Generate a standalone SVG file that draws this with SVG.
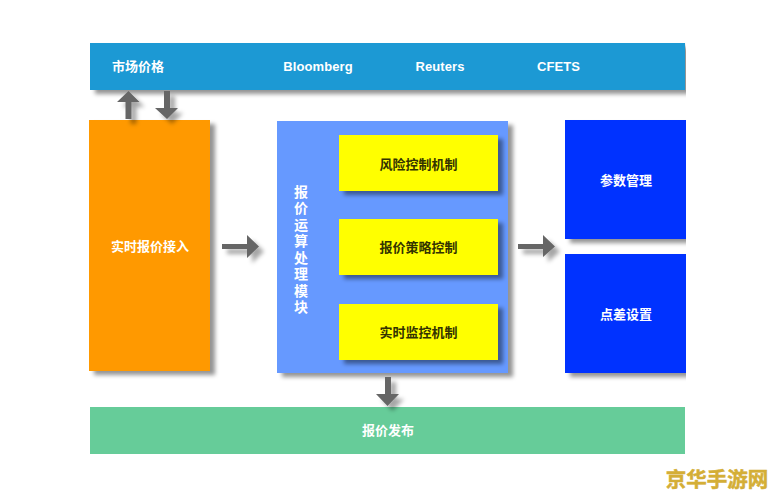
<svg xmlns="http://www.w3.org/2000/svg" width="775" height="498" viewBox="0 0 775 498">
<style>
text{font-family:"Liberation Sans","Noto Sans CJK SC",sans-serif;font-weight:bold;font-size:13px;fill:#fff;text-anchor:middle}
.dark{fill:#333300}
.w{fill:#d4ae36;stroke:#d4ae36;stroke-width:.5px;font-size:20.500px}
.v{font-size:14px}
.lat{letter-spacing:.1px}
.arrow{fill:#666;filter:url(#as)}
.box{filter:url(#sh)}
.cut{clip-path:url(#right)}
</style>
<defs>
<filter id="sh" x="-10%" y="-10%" width="125%" height="130%"><feDropShadow dx="5" dy="4" stdDeviation="2" flood-color="#000" flood-opacity=".42"/></filter>
<filter id="as" x="-50%" y="-50%" width="200%" height="200%"><feDropShadow dx="5" dy="5" stdDeviation="2.200" flood-color="#000" flood-opacity=".35"/></filter>
<clipPath id="right" clipPathUnits="userSpaceOnUse"><rect x="0" y="0" width="686" height="498"/></clipPath>
</defs>
<rect width="775" height="498" fill="#fff"/>
<g id="market"><g class="cut"><rect class="box" x="90" y="43" width="595" height="47" fill="#1a99d4"/></g>
<text x="138" y="71">市场价格</text><text class="lat" x="318" y="71">Bloomberg</text><text class="lat" x="440" y="71">Reuters</text><text class="lat" x="558.500" y="71">CFETS</text></g>
<g id="input"><rect class="box" x="89" y="120" width="121" height="251" fill="#ff9900"/><text x="150" y="251">实时报价接入</text></g>
<g id="engine"><rect class="box" x="277" y="121" width="231" height="252" fill="#6699ff"/>
<text class="v" x="301" y="197">报</text><text class="v" x="301" y="213.400">价</text><text class="v" x="301" y="229.900">运</text><text class="v" x="301" y="246.300">算</text><text class="v" x="301" y="262.700">处</text><text class="v" x="301" y="279.100">理</text><text class="v" x="301" y="295.600">模</text><text class="v" x="301" y="312">块</text></g>
<g id="risk"><rect class="box" x="339" y="135" width="159" height="56" fill="#ffff00"/><text class="dark" x="418.500" y="169">风险控制机制</text></g>
<g id="strategy"><rect class="box" x="339" y="219" width="159" height="56" fill="#ffff00"/><text class="dark" x="418.500" y="252">报价策略控制</text></g>
<g id="monitor"><rect class="box" x="339" y="304" width="159" height="56" fill="#ffff00"/><text class="dark" x="418.500" y="337">实时监控机制</text></g>
<g id="params"><g class="cut"><rect class="box" x="565" y="120" width="121" height="119" fill="#0033ff"/></g><text x="626" y="185">参数管理</text></g>
<g id="spread"><g class="cut"><rect class="box" x="565" y="254" width="121" height="119" fill="#0033ff"/></g><text x="626" y="319">点差设置</text></g>
<g id="publish"><rect x="90" y="407" width="595" height="47" fill="#66cc99"/><text x="388" y="435">报价发布</text></g>
<g id="connectors">
<path class="arrow" d="M125.500 119V102H117L128.500 91L139.500 102H131.500V119Z"/>
<path class="arrow" d="M164 91V108H155L167 119L178 108H170V91Z"/>
<path class="arrow" d="M222 244V249H247V258L259 246.500L247 235V244Z"/>
<path class="arrow" d="M518 244V249H543V257L555 246.500L543 235V244Z"/>
<path class="arrow" d="M385 377V394H376L387.500 406L399 394H391V377Z"/>
</g>
<text class="w" x="717" y="487">京华手游网</text>
</svg>
